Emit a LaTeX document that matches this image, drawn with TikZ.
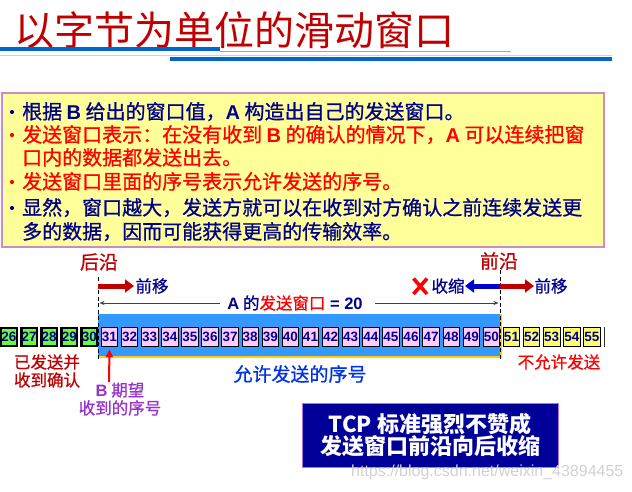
\documentclass[tikz,border=0pt]{standalone}
\usepackage{fontspec}
\setmainfont{Noto Sans CJK SC}
\newfontfamily\hei{Noto Sans CJK SC}[FakeBold=0.9]
\newfontfamily\arial{Liberation Sans}
\newcommand{\lat}[1]{{\arial\bfseries #1}}
\usetikzlibrary{arrows.meta}
\definecolor{navy}{RGB}{0,0,140}
\definecolor{pured}{RGB}{255,0,0}
\definecolor{darkred}{RGB}{192,0,0}
\definecolor{bluetext}{RGB}{0,51,230}
\definecolor{purp}{RGB}{153,51,204}
\definecolor{band}{RGB}{51,153,255}
\definecolor{gold}{RGB}{255,204,0}
\definecolor{pinkfill}{RGB}{255,204,255}
\definecolor{ackgreen}{RGB}{102,255,51}
\definecolor{outyellow}{RGB}{255,255,102}
\definecolor{noteyellow}{RGB}{255,255,153}
\definecolor{noteborder}{RGB}{200,140,200}
\definecolor{tcpnavy}{RGB}{0,0,153}
\definecolor{titleblue}{RGB}{0,102,204}
\definecolor{lightblue}{RGB}{51,204,255}
\definecolor{lightcyan}{RGB}{150,230,240}
\definecolor{arrowblue}{RGB}{0,0,204}
\begin{document}
\begin{tikzpicture}[x=1pt,y=-1pt,
  numbox/.style={draw=black, line width=0.8pt, minimum width=16.5pt, minimum height=19.5pt,
    inner sep=0pt, font=\arial\bfseries\fontsize{13.5}{14}\selectfont, text=navy},
  ackbox/.style={numbox, fill=ackgreen, line width=2.4pt, minimum width=15.5pt, minimum height=18pt},
  winbox/.style={numbox, fill=pinkfill},
  outbox/.style={numbox, fill=outyellow},
  notetxt/.style={anchor=base west, inner sep=0pt, font=\hei\fontsize{20}{24}\selectfont},
  bulletdot/.style={circle, inner sep=0pt, minimum size=4.2pt},
  lbl/.style={inner sep=0pt, font=\hei\fontsize{16.5}{18}\selectfont},
  biglbl/.style={inner sep=0pt, font=\hei\fontsize{19}{20}\selectfont},
  edge/.style={black, line width=0.9pt, dash pattern=on 4pt off 2.5pt},
  fatarrow/.style={line width=5pt, -{Triangle[length=9pt,width=13pt]}},
  thinarrow/.style={line width=0.6pt, black!75, -{Stealth[length=5pt,width=4pt]}}
]
\useasboundingbox (0,0) rectangle (632,491);

% title and rules
\node[anchor=base west, inner sep=0pt, text=darkred, font=\fontsize{40}{44}\selectfont] (title) at (14,45) {以字节为单位的滑动窗口};
\draw[titleblue, line width=4pt] (0,49) -- (220,49);
\draw[lightblue, line width=1pt] (220,51.5) -- (511,51.5);
\draw[lightcyan, line width=1.5pt] (0,55.5) -- (612,55.5);
\draw[titleblue, line width=4pt] (170,59) -- (612,59);

% note box
\draw[noteborder, fill=noteyellow, line width=1.2pt] (2,93) rectangle (604,247);
\node[bulletdot, fill=navy] (d1) at (12,112) {};
\node[notetxt, text=navy] (l1) at (22,119) {根据 \lat{B} 给出的窗口值，\lat{A} 构造出自己的发送窗口。};
\node[bulletdot, fill=pured] (d2) at (12,135) {};
\node[notetxt, text=pured] (l2) at (22,142) {发送窗口表示：在没有收到 \lat{B} 的确认的情况下，\lat{A} 可以连续把窗};
\node[notetxt, text=pured] (l3) at (22,165) {口内的数据都发送出去。};
\node[bulletdot, fill=pured] (d4) at (12,182) {};
\node[notetxt, text=pured] (l4) at (22,189) {发送窗口里面的序号表示允许发送的序号。};
\node[bulletdot, fill=navy] (d5) at (12,208) {};
\node[notetxt, text=navy] (l5) at (22,215) {显然，窗口越大，发送方就可以在收到对方确认之前连续发送更};
\node[notetxt, text=navy] (l6) at (22,239) {多的数据，因而可能获得更高的传输效率。};

% window band
\fill[band] (98,314) rectangle (500,356);
\draw[gold, line width=2pt] (98,357) -- (501,357) -- (501,314);

% numbered boxes
\foreach \i in {26,...,30} {\node[ackbox] (b\i) at ({9+(\i-26)*20.1},337) {\i};}
\foreach \i in {31,...,50} {\node[winbox] (b\i) at ({9+(\i-26)*20.1},337) {\i};}
\foreach \i in {51,...,55} {\node[outbox] (b\i) at ({9+(\i-26)*20.1},337) {\i};}
\coordinate (cut1) at (604.5,327);
\coordinate (cut2) at (604.5,347);
\draw[black!80, line width=1pt] (cut1) -- (cut2);

% edges
\coordinate (rearTop) at (98,277);
\coordinate (rearBot) at (98,359);
\coordinate (frontTop) at (500,270);
\coordinate (frontBot) at (500,359);
\draw[edge] (rearTop) -- (rearBot);
\draw[edge] (frontTop) -- (frontBot);

\node[biglbl, text=darkred] (hou) at (99,262) {后沿};
\node[biglbl, text=darkred] (qian) at (499,261) {前沿};

% movement arrows
\coordinate (r1s) at (98,286);
\coordinate (r1e) at (134,286);
\draw[fatarrow, darkred] (r1s) -- (r1e);
\node[lbl, text=navy] (qy1) at (152,286) {前移};
\coordinate (r2s) at (500,286);
\coordinate (r2e) at (534,286);
\draw[fatarrow, darkred] (r2s) -- (r2e);
\node[lbl, text=navy] (qy2) at (551,286) {前移};
\coordinate (b2e) at (465,286);
\draw[fatarrow, arrowblue] (r2s) -- (b2e);
\node[lbl, text=navy] (shou) at (448,286) {收缩};
\draw[pured, line width=3.6pt] (413.5,278.5) -- (427,294) (427,278.5) -- (413.5,294);

% window size
\node[inner sep=0pt, font=\hei\fontsize{16.5}{18}\selectfont] (win) at (295,303)
  {\textcolor{navy}{\lat{A} 的}\textcolor{pured}{发送窗口}\textcolor{navy}{\lat{\ = 20}}};
\coordinate (wl) at (99.5,303);
\coordinate (wr) at (498.5,303);
\draw[thinarrow] ([xshift=-7pt]win.west) -- (wl);
\draw[thinarrow] ([xshift=12pt]win.east) -- (wr);

% lower labels
\node[lbl, text=darkred, align=center] (acked) at (47,371) {已发送并\\收到确认};
\coordinate (pexp) at (109,382);
\draw[pured, line width=2pt, -{Triangle[length=8pt,width=7pt]}] (pexp) -- ([yshift=-2pt]b31.south);
\node[lbl, text=purp, align=center] (bexp) at (120,399) {\lat{B} 期望\\收到的序号};
\node[biglbl, text=bluetext] (allow) at (300,374) {允许发送的序号};
\node[lbl, text=pured] (notallow) at (559,362) {不允许发送};

% TCP box
\node[draw=purp!70, line width=0.8pt, fill=tcpnavy, minimum width=256pt, minimum height=64pt,
  inner sep=0pt, text=white, align=center, font=\bfseries\fontsize{22}{22}\selectfont] (tcp) at (430,435)
  {TCP 标准强烈不赞成\\发送窗口前沿向后收缩};

% watermark
\node[anchor=west, inner sep=0pt, text=black!18, font=\arial\fontsize{16}{18}\selectfont] (wm) at (351,472) {https://blog.csdn.net/weixin\_43894455};
\end{tikzpicture}
\end{document}
